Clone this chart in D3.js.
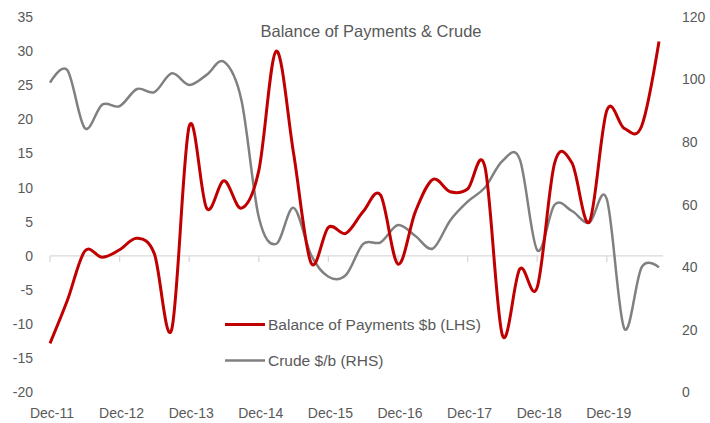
<!DOCTYPE html>
<html lang="en">
<head>
<meta charset="UTF-8">
<title>Balance of Payments & Crude</title>
<style>
  * { margin: 0; padding: 0; }
  body { background: #fff; }
  text { font-family: "Liberation Sans", Arial, sans-serif; fill: #595959; }
</style>
</head>
<body>
<div id="chart"></div>
<script src="https://cdn.jsdelivr.net/npm/d3@7"></script>
<script>
// quarterly, Dec-11 .. Sep-20
var bop = [-12.8, -6.5, 0.7, -0.2, 0.9, 2.6, 0.3, -10.7, 19.0, 7.0, 11.0, 7.0,
           12.5, 30.0, 15.0, -1.0, 4.2, 3.3, 6.5, 8.9, -1.2, 6.5, 11.2, 9.4,
           9.8, 13.0, -11.6, -1.9, -4.6, 13.6, 13.6, 5.0, 21.3, 18.7, 19.0, 31.4]
var crude = [99, 103, 84.5, 92, 91.5, 97, 96, 102, 98.3, 101.5, 105.7, 93.5,
             56, 47.5, 59, 44, 37, 37.5, 47.5, 48, 53.5, 50, 46, 55,
             61, 65.5, 74, 74.5, 45.5, 60, 58, 54.3, 61.8, 20.5, 40, 40]
var xLabels = ['Dec-11', 'Dec-12', 'Dec-13', 'Dec-14', 'Dec-15', 'Dec-16', 'Dec-17', 'Dec-18', 'Dec-19']
var leftTicks = [-20, -15, -10, -5, 0, 5, 10, 15, 20, 25, 30, 35]
var rightTicks = [0, 20, 40, 60, 80, 100, 120]

var W = 710, H = 423
var svg = d3.select('#chart').append('svg').attr('width', W).attr('height', H)

var x = d3.scaleLinear().domain([0, bop.length - 1]).range([50, 659])
var yL = d3.scaleLinear().domain([-20, 35]).range([392.5, 17])
var yR = d3.scaleLinear().domain([0, 120]).range([392.5, 17])

// title
svg.append('text')
  .attr('x', 371).attr('y', 37)
  .attr('text-anchor', 'middle')
  .style('font-size', '16.5px')
  .text('Balance of Payments & Crude')

// left axis labels
svg.append('g').selectAll('text')
  .data(leftTicks).enter().append('text')
  .attr('x', 33)
  .attr('y', function (d) { return yL(d) })
  .attr('dy', '0.35em')
  .attr('text-anchor', 'end')
  .style('font-size', '14px')
  .text(function (d) { return d })

// right axis labels
svg.append('g').selectAll('text')
  .data(rightTicks).enter().append('text')
  .attr('x', 682)
  .attr('y', function (d) { return yR(d) })
  .attr('dy', '0.35em')
  .style('font-size', '14px')
  .text(function (d) { return d })

// category axis at zero
var y0 = yL(0)
svg.append('line')
  .attr('x1', 50).attr('x2', 663)
  .attr('y1', y0).attr('y2', y0)
  .attr('stroke', '#d9d9d9').attr('stroke-width', 1.3)

svg.append('g').selectAll('line')
  .data(xLabels).enter().append('line')
  .attr('x1', function (d, i) { return x(i * 4) })
  .attr('x2', function (d, i) { return x(i * 4) })
  .attr('y1', y0).attr('y2', y0 + 6)
  .attr('stroke', '#d9d9d9').attr('stroke-width', 1.3)

svg.append('g').selectAll('text')
  .data(xLabels).enter().append('text')
  .attr('x', function (d, i) { return x(i * 4) + 2 })
  .attr('y', 418)
  .attr('text-anchor', 'middle')
  .style('font-size', '14px')
  .text(function (d) { return d })

// lines
var lineL = d3.line()
  .x(function (d, i) { return x(i) })
  .y(function (d) { return yL(d) })
  .curve(d3.curveCatmullRom.alpha(0))
var lineR = d3.line()
  .x(function (d, i) { return x(i) })
  .y(function (d) { return yR(d) })
  .curve(d3.curveCatmullRom.alpha(0))

svg.append('path')
  .attr('d', lineR(crude))
  .attr('fill', 'none')
  .attr('stroke', '#808080')
  .attr('stroke-width', 2.5)
  .attr('stroke-linejoin', 'round')

svg.append('path')
  .attr('d', lineL(bop))
  .attr('fill', 'none')
  .attr('stroke', '#c00000')
  .attr('stroke-width', 3)
  .attr('stroke-linejoin', 'round')

// legend
var legend = [
  { name: 'Balance of Payments $b (LHS)', color: '#c00000', w: 3, y: 324.5 },
  { name: 'Crude $/b (RHS)', color: '#808080', w: 2.5, y: 360.5 }
]
var lg = svg.append('g').selectAll('g')
  .data(legend).enter().append('g')
lg.append('line')
  .attr('x1', 225).attr('x2', 265)
  .attr('y1', function (d) { return d.y })
  .attr('y2', function (d) { return d.y })
  .attr('stroke', function (d) { return d.color })
  .attr('stroke-width', function (d) { return d.w })
lg.append('text')
  .attr('x', 268)
  .attr('y', function (d) { return d.y })
  .attr('dy', '0.35em')
  .style('font-size', '15.5px')
  .text(function (d) { return d.name })
</script>
</body>
</html>
